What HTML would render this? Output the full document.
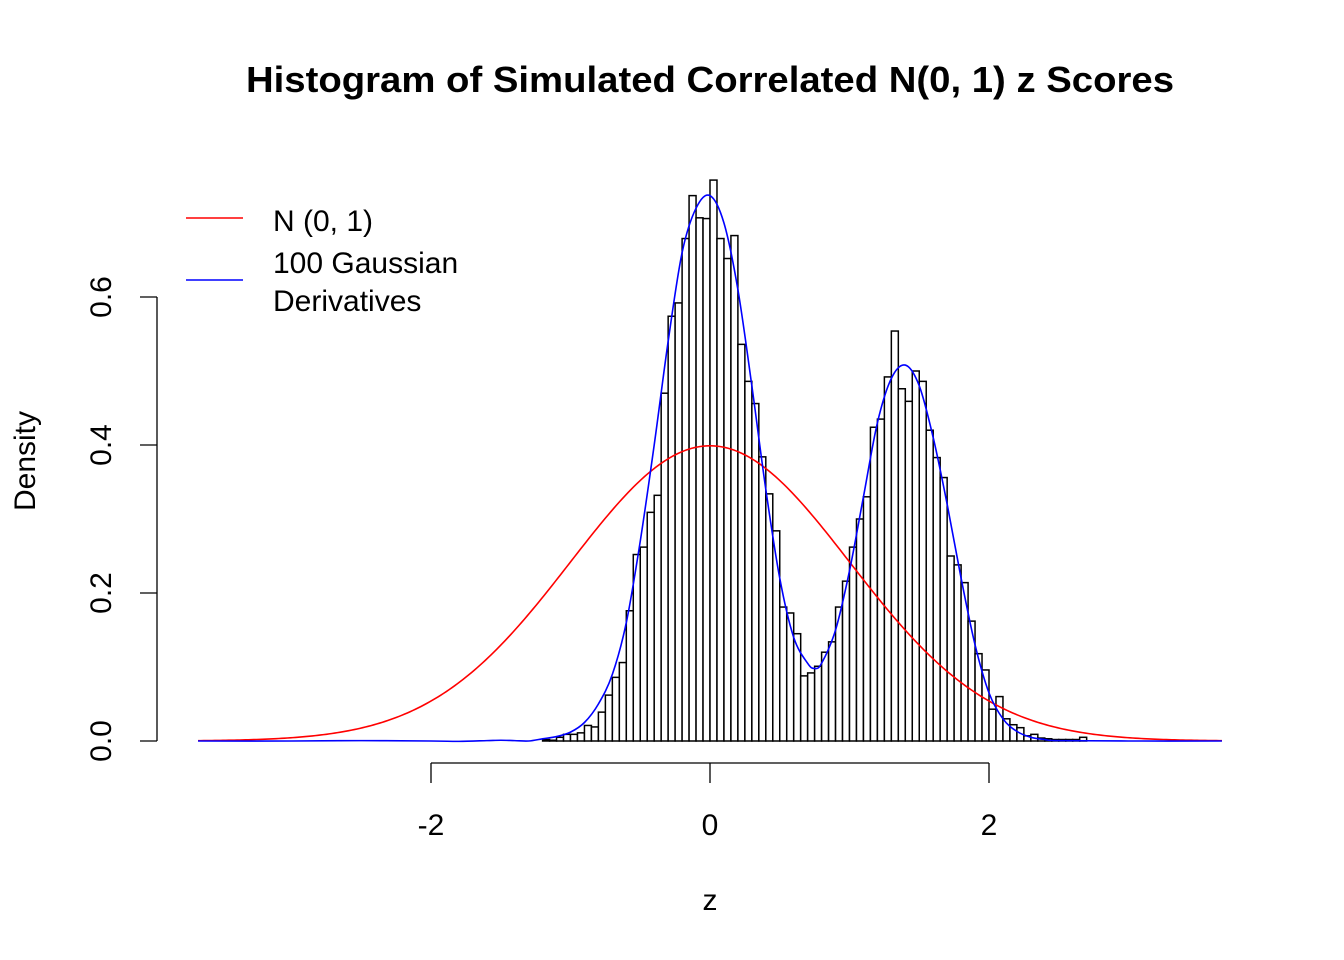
<!DOCTYPE html>
<html><head><meta charset="utf-8"><style>
body{margin:0;background:#fff;}
svg{display:block;font-family:"Liberation Sans",Arial,sans-serif;}
</style></head><body>
<svg id="chart" width="1344" height="960" viewBox="0 0 1344 960">
<text x="710" y="92" text-anchor="middle" font-size="36" font-weight="bold" textLength="928" lengthAdjust="spacingAndGlyphs">Histogram of Simulated Correlated N(0, 1) z Scores</text>
<g id="yaxis"></g>
<g id="xaxis"></g>
<text transform="translate(35,461) rotate(-90)" text-anchor="middle" font-size="30">Density</text>
<text x="710" y="910" text-anchor="middle" font-size="30">z</text>
<g id="bars"></g>
<path id="red" fill="none" stroke="#ff0000" stroke-width="1.6"/>
<path id="blue" fill="none" stroke="#0000ff" stroke-width="1.6"/>
<g>
<line x1="186" y1="218" x2="243" y2="218" stroke="#ff0000" stroke-width="1.6"/>
<text x="273" y="231" font-size="30">N (0, 1)</text>
<line x1="186" y1="280" x2="243" y2="280" stroke="#0000ff" stroke-width="1.6"/>
<text x="273" y="273" font-size="30">100 Gaussian</text>
<text x="273" y="311" font-size="30">Derivatives</text>
</g>
</svg>
<script>
const binStart = -1.2;
const binWidth = 0.05;
const densities = [0.002,0.001,0.005,0.009,0.009,0.011,0.021,0.019,0.039,0.062,0.086,0.106,0.176,0.252,0.262,0.309,0.332,0.470,0.574,0.592,0.679,0.737,0.707,0.706,0.758,0.679,0.652,0.683,0.536,0.486,0.456,0.384,0.334,0.284,0.181,0.173,0.145,0.088,0.092,0.101,0.120,0.134,0.181,0.216,0.262,0.300,0.330,0.424,0.435,0.492,0.554,0.476,0.459,0.500,0.486,0.420,0.383,0.356,0.250,0.238,0.214,0.162,0.118,0.096,0.043,0.060,0.030,0.022,0.018,0.007,0.009,0.004,0.003,0.002,0.002,0.002,0.002,0.005];
const blueZ = [-3.67,-3.0,-2.5,-2.0,-1.8,-1.6,-1.5,-1.4,-1.3,-1.2,-1.1,-1.0,-0.9,-0.8,-0.7,-0.6,-0.5,-0.4,-0.3,-0.2,-0.1,0.0,0.1,0.2,0.3,0.4,0.5,0.6,0.7,0.75,0.8,0.9,1.0,1.1,1.2,1.3,1.4,1.5,1.6,1.7,1.8,1.9,2.0,2.1,2.2,2.3,2.4,2.5,3.0,3.67];
const blueD = [0,0,0.0005,0.0,-0.0005,0.0005,0.001,0.0005,0.0,0.003,0.006,0.012,0.025,0.05,0.09,0.16,0.27,0.40,0.54,0.66,0.72,0.737,0.70,0.61,0.48,0.34,0.22,0.14,0.105,0.098,0.105,0.15,0.23,0.33,0.43,0.49,0.508,0.48,0.41,0.32,0.22,0.13,0.065,0.03,0.013,0.005,0.002,0.0005,0,0];
const yTicks = [0,0.2,0.4,0.6];
const yTickLabels = ["0.0","0.2","0.4","0.6"];
const xTicks = [-2,0,2];
const xTickLabels = ["-2","0","2"];

const NS="http://www.w3.org/2000/svg";
const X=z=>710+139.5*z;
const Y=d=>741-740*d;
function mk(t,a,p){const e=document.createElementNS(NS,t);for(const k in a)e.setAttribute(k,a[k]);p.appendChild(e);return e;}
const bars=document.getElementById('bars');
densities.forEach((d,i)=>{
  const x0=X(binStart+i*binWidth),x1=X(binStart+(i+1)*binWidth);
  const r=mk('rect',{x:x0,y:Y(d),width:x1-x0,height:Y(0)-Y(d),fill:'#fff',stroke:'#000','stroke-width':1.5},bars);
  
  
});
let p='';
for(let z=-3.67;z<=3.671;z+=0.02){const d=Math.exp(-z*z/2)/Math.sqrt(2*Math.PI);p+=(p?'L':'M')+X(z).toFixed(2)+','+Y(d).toFixed(2);}
document.getElementById('red').setAttribute('d',p);
const pts=blueZ.map((z,i)=>[X(z),Y(blueD[i])]);
let b='M'+pts[0][0]+','+pts[0][1];
for(let i=0;i<pts.length-1;i++){
  const p0=pts[Math.max(0,i-1)],p1=pts[i],p2=pts[i+1],p3=pts[Math.min(pts.length-1,i+2)];
  const c1=[p1[0]+(p2[0]-p0[0])/6,p1[1]+(p2[1]-p0[1])/6],c2=[p2[0]-(p3[0]-p1[0])/6,p2[1]-(p3[1]-p1[1])/6];
  b+=`C${c1[0].toFixed(2)},${c1[1].toFixed(2)} ${c2[0].toFixed(2)},${c2[1].toFixed(2)} ${p2[0].toFixed(2)},${p2[1].toFixed(2)}`;
}
document.getElementById('blue').setAttribute('d',b);
const ya=document.getElementById('yaxis');
mk('line',{x1:157,y1:Y(yTicks[yTicks.length-1]),x2:157,y2:Y(yTicks[0]),stroke:'#000','stroke-width':1.3},ya);
yTicks.forEach((t,i)=>{
  mk('line',{x1:157,y1:Y(t),x2:140,y2:Y(t),stroke:'#000','stroke-width':1.3},ya);
  const tx=mk('text',{transform:`translate(111,${Y(t)}) rotate(-90)`,'text-anchor':'middle','font-size':30},ya);
  tx.textContent=yTickLabels[i];
  
  
});
const xa=document.getElementById('xaxis');
mk('line',{x1:X(xTicks[0]),y1:763,x2:X(xTicks[xTicks.length-1]),y2:763,stroke:'#000','stroke-width':1.3},xa);
xTicks.forEach((t,i)=>{
  mk('line',{x1:X(t),y1:763,x2:X(t),y2:783,stroke:'#000','stroke-width':1.3},xa);
  const tx=mk('text',{x:X(t),y:835,'text-anchor':'middle','font-size':30},xa);
  tx.textContent=xTickLabels[i];
  
  
});
</script>
</body></html>
